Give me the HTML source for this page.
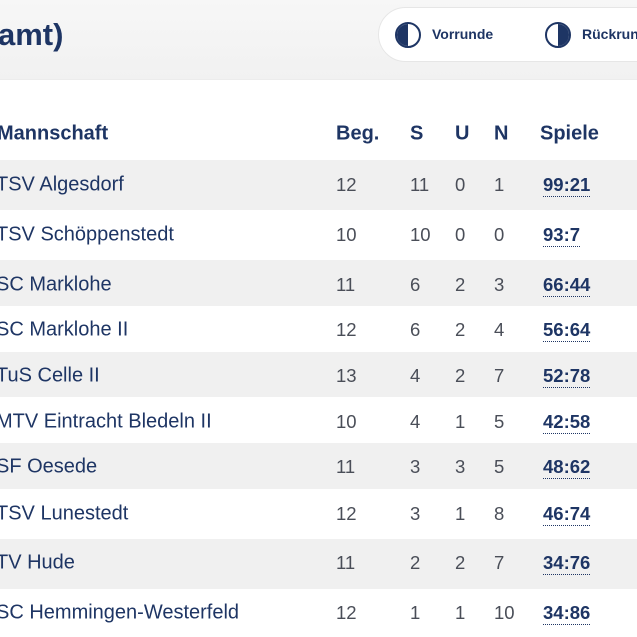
<!DOCTYPE html>
<html><head><meta charset="utf-8"><style>
*{margin:0;padding:0;box-sizing:border-box}
body{width:637px;height:637px;overflow:hidden;background:#fff;font-family:"Liberation Sans",sans-serif;position:relative}
.top{position:absolute;left:0;top:0;width:637px;height:80px;background:linear-gradient(#f7f7f7,#f1f1f1);border-bottom:1px solid #ececec}
.title{position:absolute;left:-2px;top:17px;font-size:31px;font-weight:bold;color:#1e3564}
.pill{position:absolute;left:378px;top:7px;width:300px;height:55px;background:#fff;border:1px solid #e6e6e6;border-radius:28px}
.ic{position:absolute;width:26px;height:26px;border-radius:50%;border:2px solid #1e3564;overflow:hidden}
.ic i{position:absolute;top:0;height:100%;width:50%;background:#1e3564}
.lg{position:absolute;top:25px;font-size:14px;font-weight:bold;color:#1e3564}
.row{position:absolute;left:0;width:637px}
.g{background:#f0f0f0}
.t{position:absolute;font-size:20px;color:#1e3564;white-space:nowrap;transform:translateY(-50%)}
.h{font-weight:bold}
.n{color:#4a4e58;font-size:18.5px}
.s{font-weight:bold;color:#1e3564;font-size:18.5px;border-bottom:1.5px dotted #1e3564;line-height:23px}
</style></head><body>
<div class="top"></div>
<div class="title">amt)</div>
<div class="pill">
<div class="ic" style="left:16px;top:14px"><i style="left:0"></i></div>
<div class="lg" style="left:53px;top:18px">Vorrunde</div>
<div class="ic" style="left:166px;top:14px"><i style="right:0"></i></div>
<div class="lg" style="left:203px;top:18px">Rückrunde</div>
</div>
<div class="row g" style="top:160px;height:50px"></div>
<div class="row g" style="top:260px;height:46px"></div>
<div class="row g" style="top:352px;height:45px"></div>
<div class="row g" style="top:443px;height:46px"></div>
<div class="row g" style="top:539px;height:50px"></div>
<div id="c"></div>
<script>
var rows=[[134,"Mannschaft","Beg.","S","U","N","Spiele"],
[185,"TSV Algesdorf",12,11,0,1,"99:21"],
[235,"TSV Schöppenstedt",10,10,0,0,"93:7"],
[285,"SC Marklohe",11,6,2,3,"66:44"],
[330,"SC Marklohe II",12,6,2,4,"56:64"],
[376,"TuS Celle II",13,4,2,7,"52:78"],
[422,"MTV Eintracht Bledeln II",10,4,1,5,"42:58"],
[467,"SF Oesede",11,3,3,5,"48:62"],
[514,"TSV Lunestedt",12,3,1,8,"46:74"],
[563,"TV Hude",11,2,2,7,"34:76"],
[613,"SC Hemmingen-Westerfeld",12,1,1,10,"34:86"]];
var xs=[-4,336,410,455,494,543],h="";
rows.forEach(function(r,i){for(var k=1;k<7;k++){var cls="t";
if(i==0)cls+=" h";else if(k>=2&&k<=5)cls+=" n";else if(k==6)cls+=" s";
var x=xs[k-1];if(i==0&&k==6)x=540;if(i==0&&k==1)x=-3;
h+='<div class="'+cls+'" style="left:'+x+'px;top:'+r[0]+'px">'+r[k]+'</div>';}});
document.getElementById("c").innerHTML=h;
</script>
</body></html>
